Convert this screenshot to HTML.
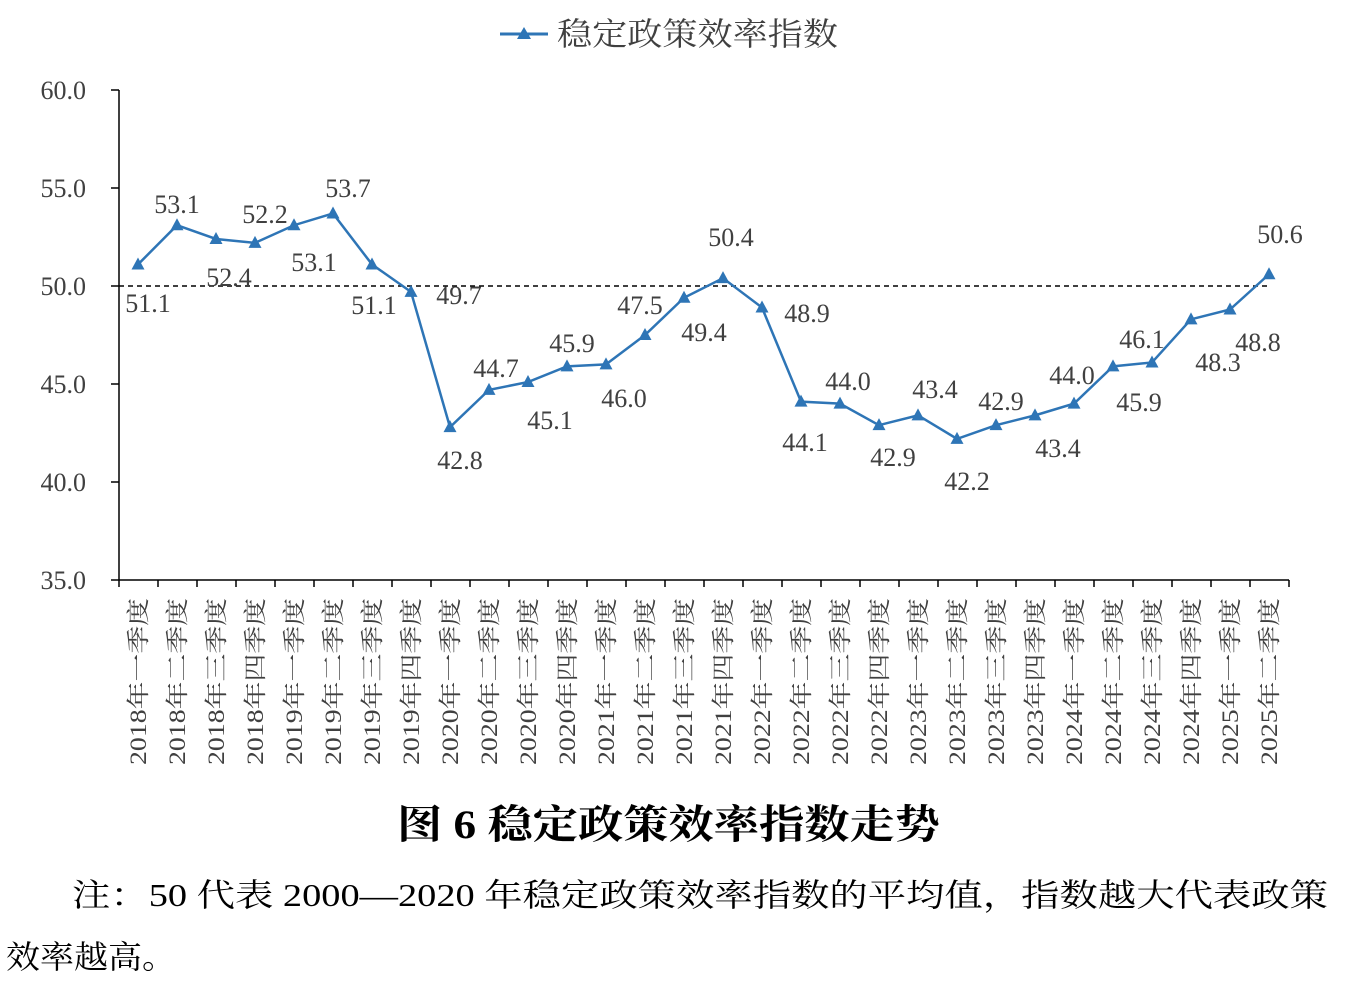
<!DOCTYPE html>
<html><head><meta charset="utf-8"><style>
html,body{margin:0;padding:0;background:#fff;}
svg{display:block;}
.n{font-family:"Liberation Serif","Noto Serif CJK SC",serif;font-size:26px;fill:#404040;}
.c{font-family:"Liberation Serif","Noto Serif CJK SC",serif;font-size:23px;fill:#404040;}
</style></head><body>
<svg width="1353" height="995" viewBox="0 0 1353 995" xmlns="http://www.w3.org/2000/svg">
<line x1="500" y1="34" x2="548" y2="34" stroke="#2E75B6" stroke-width="3"/>
<polygon points="524,27 531,39 517,39" fill="#2E75B6"/>
<text x="557" y="45" textLength="281" lengthAdjust="spacingAndGlyphs" style="font-family:'Noto Serif CJK SC',serif;font-size:32px;fill:#404040">稳定政策效率指数</text>
<g stroke="#000" stroke-width="1.5" fill="none">
<line x1="119" y1="90" x2="119" y2="580"/>
<line x1="119" y1="580" x2="1289" y2="580"/>
<line x1="111" y1="90" x2="119" y2="90"/>
<line x1="111" y1="188" x2="119" y2="188"/>
<line x1="111" y1="286" x2="119" y2="286"/>
<line x1="111" y1="384" x2="119" y2="384"/>
<line x1="111" y1="482" x2="119" y2="482"/>
<line x1="111" y1="580" x2="119" y2="580"/>
</g>
<g id="xt" stroke="#000" stroke-width="1.5"></g>
<g class="n" text-anchor="end">
<text x="86" y="99">60.0</text><text x="86" y="197">55.0</text><text x="86" y="295">50.0</text>
<text x="86" y="393">45.0</text><text x="86" y="491">40.0</text><text x="86" y="589">35.0</text>
</g>
<line x1="119" y1="286" x2="1269" y2="286" stroke="#000" stroke-width="1.5" stroke-dasharray="5,4"/>
<g id="series"></g>
<g id="xl" class="c"></g>
<g class="n" text-anchor="middle" id="dl"></g>
<text x="397" y="838" textLength="543" lengthAdjust="spacingAndGlyphs" style="font-family:'Liberation Serif','Noto Serif CJK SC',serif;font-size:40px;font-weight:bold;fill:#000">图 6  稳定政策效率指数走势</text>
<text x="72" y="906" textLength="1256" lengthAdjust="spacingAndGlyphs" style="font-family:'Liberation Serif','Noto Serif CJK SC',serif;font-size:32px;fill:#000">注：50 代表 2000—2020 年稳定政策效率指数的平均值，指数越大代表政策</text>
<text x="6" y="968" textLength="170" lengthAdjust="spacingAndGlyphs" style="font-family:'Liberation Serif','Noto Serif CJK SC',serif;font-size:32px;fill:#000">效率越高。</text>
</svg>
<script>
var d=[51.1,53.1,52.4,52.2,53.1,53.7,51.1,49.7,42.8,44.7,45.1,45.9,46.0,47.5,49.4,50.4,48.9,44.1,44.0,42.9,43.4,42.2,42.9,43.4,44.0,45.9,46.1,48.3,48.8,50.6];
var T=d.slice();T[25]=46.1;T[26]=45.9;
var L=[[148,303],[177,204],[229,277],[265,214],[314,262],[348,188],[374,305],[459,295],[460,460],[496,368],[550,420],[572,343],[624,398],[640,305],[704,332],[731,237],[807,313],[805,442],[848,381],[893,457],[935,389],[967,481],[1001,401],[1058,448],[1072,375],[1142,339],[1139,402],[1218,362],[1258,342],[1280,234]];
var q=["一","二","三","四"];
function X(i){return 138+i*39;}function Y(v){return 286-(v-50)*19.6;}
var pts=d.map(function(v,i){return X(i)+","+Y(v)}).join(" ");
var s='<polyline points="'+pts+'" fill="none" stroke="#2E75B6" stroke-width="2.5"/>';
d.forEach(function(v,i){var x=X(i),y=Y(v);s+='<polygon points="'+x+','+(y-7)+' '+(x+6.5)+','+(y+5)+' '+(x-6.5)+','+(y+5)+'" fill="#2E75B6"/>';});
document.getElementById('series').innerHTML=s;
var t='';for(var k=0;k<=30;k++){var x=119+k*39;t+='<line x1="'+x+'" y1="580" x2="'+x+'" y2="587"/>';}
document.getElementById('xt').innerHTML=t;
var xl='';d.forEach(function(v,i){var yr=2018+Math.floor(i/4);var lab=yr+"年"+q[i%4]+"季度";var x=X(i)+8;
xl+='<text transform="translate('+x+',598) rotate(-90)" text-anchor="end" textLength="167" lengthAdjust="spacingAndGlyphs">'+lab+'</text>';});
document.getElementById('xl').innerHTML=xl;
var dl='';T.forEach(function(v,i){dl+='<text x="'+L[i][0]+'" y="'+(L[i][1]+9)+'">'+v.toFixed(1)+'</text>';});
document.getElementById('dl').innerHTML=dl;
</script>
</body></html>
